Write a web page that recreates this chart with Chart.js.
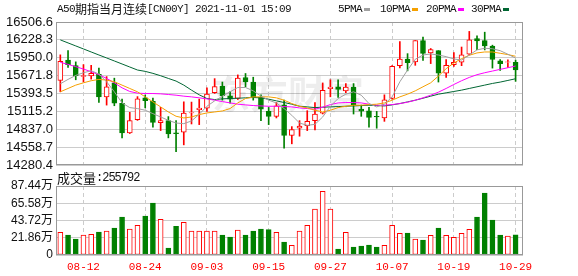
<!DOCTYPE html>
<html>
<head>
<meta charset="utf-8">
<script src="https://cdn.jsdelivr.net/npm/chart.js@4.4.0/dist/chart.umd.min.js"></script>
<style>
  html, body { margin: 0; padding: 0; background: #fff; }
  #wrap { position: relative; width: 578px; height: 276px; }
  #wrap canvas { position: absolute; left: 0; top: 0; }
</style>
</head>
<body>
<div id="wrap">
  <canvas id="volChart" width="578" height="276"></canvas>
  <canvas id="kChart" width="578" height="276"></canvas>
</div>
<script>
const dates = ['08-06','08-10','08-11','08-12','08-13','08-16','08-17','08-18','08-19','08-20',
  '08-23','08-24','08-25','08-26','08-27','08-30','08-31','09-01','09-02','09-03',
  '09-06','09-07','09-08','09-09','09-10','09-13','09-14','09-15','09-16','09-17',
  '09-20','09-21','09-22','09-23','09-24','09-27','09-28','09-29','09-30','10-01',
  '10-04','10-05','10-06','10-07','10-08','10-11','10-12','10-13','10-14','10-15',
  '10-18','10-19','10-20','10-21','10-22','10-25','10-26','10-27','10-28','10-29'];

const opens = [15597,15913,15827,15660,15667,15690,15342,15558,15239,14780,
  14985,15325,15270,14940,14971,14780,14791,15090,15141,15167,
  15405,15508,15358,15316,15642,15572,15332,15115,15038,15218,
  14739,14852,14893,14971,15089,15468,15498,15433,15493,15151,
  15125,15038,15013,15316,15827,15929,15886,16217,16025,16061,
  15709,15843,15880,16005,16250,16217,16130,15902,15880,15880];
const highs = [15995,16061,15886,15843,15832,15789,15657,15632,15306,15100,
  15345,15370,15322,15178,15034,14971,15264,15260,15306,15480,
  15625,15572,15423,15683,15705,15647,15373,15177,15254,15290,
  14878,14971,15126,15254,15558,15607,15607,15548,15548,15213,
  15177,15115,15373,15830,16200,16014,16217,16272,16094,16061,
  15923,16030,16117,16360,16290,16348,16146,15923,15918,15913];
const lows = [15420,15800,15607,15572,15617,15254,15213,15203,14703,14770,
  14975,15170,14868,14816,14703,14486,14594,14919,14909,15115,
  15395,15290,15244,15300,15498,15290,14971,14909,15013,14542,
  14610,14729,14816,14827,15075,15342,15332,15408,15074,15038,
  14868,14853,14960,15305,15790,15746,15832,15907,15859,15572,
  15642,15816,15827,15995,16077,16072,15789,15752,15800,15583];
const closes = [15896,15843,15672,15672,15709,15342,15498,15244,14780,14971,
  15310,15283,14945,14971,14765,14770,15089,15097,15167,15383,
  15500,15358,15306,15632,15572,15332,15151,15038,15203,14739,
  14832,14888,14960,15074,15443,15493,15458,15493,15218,15120,
  15023,15030,15296,15817,15929,15875,16217,16019,16078,15709,
  15832,15880,15995,16228,16211,16136,15923,15859,15885,15761];

// volume, in 万
const vols = [28.7,25.3,20.3,25.3,26.2,29.1,30.4,34.2,48.2,32.9,
  37.6,49.4,65.9,45.2,8.9,36.3,41.4,30.4,30.4,30.4,
  30.4,25.3,22.8,31.7,25.3,30.4,32.9,32.1,28.7,16.5,
  12.3,30.4,37.6,58.3,80.7,58.3,7.6,28.7,10.1,11.4,
  12.7,10.1,12.3,37.6,27.5,27.9,20.3,19.0,24.9,34.2,
  24.9,22.4,27.5,32.5,48.2,78.6,44.4,25.3,24.1,25.58];

const ma5 = [15545,15613,15675,15717,15748,15696,15576,15420,15247,15174,
  15159,15133,15080,15028,14976,14934,14924,14966,15070,15195,
  15279,15352,15420,15487,15487,15435,15352,15289,15247,15159,
  15054,14934,14898,14913,15028,15195,15315,15383,15420,15367,
  15237,15185,15227,15341,15576,15759,15926,15993,16009,15993,
  15967,15931,15915,15993,16072,16098,16090,16060,16005,15945];
const ma10 = [15420,15472,15524,15560,15592,15613,15602,15576,15524,15472,
  15420,15341,15263,15185,15106,15039,15013,15028,15065,15091,
  15106,15122,15159,15247,15315,15341,15341,15341,15326,15289,
  15237,15195,15169,15133,15106,15133,15174,15195,15211,15211,
  15221,15227,15247,15289,15341,15383,15435,15498,15560,15665,
  15780,15868,15936,15988,16025,16040,16040,16020,15999,15973];
const ma20 = [15879,15847,15811,15774,15733,15686,15628,15560,15482,15425,
  15399,15393,15393,15388,15378,15367,15352,15341,15326,15310,
  15289,15268,15247,15227,15216,15206,15200,15195,15195,15190,
  15185,15169,15159,15148,15180,15221,15247,15253,15253,15247,
  15227,15211,15211,15221,15237,15258,15289,15326,15367,15414,
  15472,15534,15592,15644,15686,15717,15743,15769,15795,15821];
const ma30 = [16228,16181,16134,16087,16040,15993,15947,15900,15853,15806,
  15759,15738,15707,15670,15628,15587,15524,15446,15373,15315,
  15299,15310,15315,15320,15326,15331,15326,15305,15279,15253,
  15227,15195,15185,15174,15180,15185,15190,15195,15200,15206,
  15211,15206,15200,15216,15237,15263,15289,15320,15352,15383,
  15404,15425,15446,15472,15498,15524,15550,15571,15597,15623];

const priceTickLabels = ['14280.4','14558.7','14837.0','15115.2','15393.5','15671.8','15950.0','16228.3','16506.6'];
const volTickValues = [0, 21.86, 43.72, 65.58, 87.44];
const volTickLabels = ['0', '21.86万', '43.72万', '65.58万', '87.44万'];
const dateTickIdx = [3, 11, 19, 27, 35, 43, 51, 59];

const titleParts = ['A50', '期指当月连续', '[CN00Y] 2021-11-01 15:09'];
const volTitle = ['成交量', ':255792'];
const maNames = ['5PMA', '10PMA', '20PMA', '30PMA'];
const maColors = ['#a0a0a0', '#f5a000', '#ff00ff', '#006633'];

const RED = '#ff0000';
const GREEN = '#008000';
const X_MIN = -0.56, X_MAX = 59.96;
const MONO = '"Liberation Mono", "DejaVu Sans Mono", monospace';
const CJK = '"Noto Sans CJK SC", sans-serif';

const idx = dates.map((_, i) => i);
const up = i => closes[i] >= opens[i];

// gray box round the plot area
const framePlugin = {
  id: 'frame',
  afterDraw(chart) {
    const a = chart.chartArea;
    const ctx = chart.ctx;
    ctx.save();
    ctx.strokeStyle = '#999';
    ctx.lineWidth = 1;
    ctx.strokeRect(Math.round(a.left) + 0.5, Math.round(a.top) + 0.5,
      Math.round(a.right - a.left) - 1, Math.round(a.bottom - a.top) - 1);
    ctx.restore();
  }
};

const watermark = {
  id: 'watermark',
  beforeDatasetsDraw(chart) {
    const ctx = chart.ctx;
    ctx.save();
    ctx.fillStyle = 'rgba(0,0,0,0.07)';
    ctx.font = 'bold 38px ' + CJK;
    ctx.textBaseline = 'middle';
    ctx.fillText('东方财富', 212, 94);
    ctx.restore();
  }
};

// title, MA legend and volume caption
const texts = {
  id: 'texts',
  afterDraw(chart) {
    const ctx = chart.ctx;
    ctx.save();
    ctx.fillStyle = '#111';
    ctx.textBaseline = 'middle';
    let x = 57;
    ctx.font = '11px ' + MONO;
    ctx.letterSpacing = '-0.6px';
    ctx.fillText(titleParts[0], x, 9);
    x += ctx.measureText(titleParts[0]).width;
    ctx.letterSpacing = '0px';
    ctx.font = '12px ' + CJK;
    ctx.fillText(titleParts[1], x, 9);
    x += ctx.measureText(titleParts[1]).width;
    ctx.font = '11px ' + MONO;
    ctx.letterSpacing = '-0.6px';
    ctx.fillText(titleParts[2], x, 9);

    const legX = [338, 380, 426, 471];
    maNames.forEach((n, k) => {
      ctx.fillStyle = '#111';
      ctx.fillText(n, legX[k], 9);
      const w = ctx.measureText(n).width;
      ctx.fillStyle = maColors[k];
      ctx.fillRect(legX[k] + w + 2, 8, 6, 3);
    });

    ctx.letterSpacing = '0px';
    ctx.fillStyle = '#111';
    ctx.font = '13px ' + CJK;
    ctx.fillText(volTitle[0], 57, 178);
    const w0 = ctx.measureText(volTitle[0]).width;
    ctx.font = '12px ' + MONO;
    ctx.letterSpacing = '-1px';
    ctx.fillText(volTitle[1], 57 + w0, 178);
    ctx.restore();
  }
};

const xGrid = {
  type: 'linear', min: X_MIN, max: X_MAX, offset: false,
  afterBuildTicks: s => { s.ticks = dateTickIdx.map(v => ({ value: v })); },
  grid: { offset: false, color: '#cccccc', drawTicks: false },
  border: { display: false, dash: [4, 3] }
};

new Chart(document.getElementById('kChart'), {
  type: 'bar',
  data: {
    datasets: [
      { type: 'line', data: idx.map(i => ({ x: i, y: ma5[i] })), borderColor: maColors[0], borderWidth: 1, pointRadius: 0, order: 1 },
      { type: 'line', data: idx.map(i => ({ x: i, y: ma10[i] })), borderColor: maColors[1], borderWidth: 1, pointRadius: 0, order: 1 },
      { type: 'line', data: idx.map(i => ({ x: i, y: ma20[i] })), borderColor: maColors[2], borderWidth: 1, pointRadius: 0, order: 1 },
      { type: 'line', data: idx.map(i => ({ x: i, y: ma30[i] })), borderColor: maColors[3], borderWidth: 1, pointRadius: 0, order: 1 },
      {
        data: idx.map(i => ({ x: i, y: [opens[i], closes[i]] })),
        backgroundColor: idx.map(i => up(i) ? '#ffffff' : GREEN),
        borderColor: idx.map(i => up(i) ? RED : GREEN),
        borderWidth: 1, borderSkipped: false, barThickness: 5, grouped: false, order: 2
      },
      {
        data: idx.map(i => ({ x: i, y: [lows[i], highs[i]] })),
        backgroundColor: idx.map(i => up(i) ? RED : GREEN),
        borderWidth: 0, barThickness: 1, grouped: false, order: 3
      }
    ]
  },
  options: {
    responsive: false, animation: false, devicePixelRatio: 1,
    layout: { padding: { left: 0, right: 55, top: 22, bottom: 111 } },
    plugins: { legend: { display: false }, tooltip: { enabled: false } },
    scales: {
      x: Object.assign({}, xGrid, {
        ticks: { display: false },
        afterFit: s => { s.height = 0; }
      }),
      y: {
        min: 14280.4, max: 16506.6,
        afterBuildTicks: s => { s.ticks = priceTickLabels.map(t => ({ value: parseFloat(t) })); },
        ticks: {
          autoSkip: false, padding: 3, color: '#111',
          font: { family: '"Liberation Sans", Arial', size: 13 },
          callback: (v, i) => priceTickLabels[i]
        },
        grid: { color: '#cccccc', drawTicks: false },
        border: { display: false },
        afterFit: s => { s.width = 56; }
      }
    }
  },
  plugins: [watermark, framePlugin, texts]
});

new Chart(document.getElementById('volChart'), {
  type: 'bar',
  data: {
    datasets: [{
      data: idx.map(i => ({ x: i, y: vols[i] })),
      backgroundColor: idx.map(i => up(i) ? '#ffffff' : GREEN),
      borderColor: idx.map(i => up(i) ? RED : GREEN),
      borderWidth: 1, borderSkipped: false, barThickness: 5, grouped: false
    }]
  },
  options: {
    responsive: false, animation: false, devicePixelRatio: 1,
    layout: { padding: { left: 0, right: 55, top: 186, bottom: 0 } },
    plugins: { legend: { display: false }, tooltip: { enabled: false } },
    scales: {
      x: Object.assign({}, xGrid, {
        ticks: {
          autoSkip: false, maxRotation: 0, padding: 5, color: RED,
          font: { family: MONO, size: 11 },
          callback: v => dates[v]
        },
        afterFit: s => { s.height = 21; }
      }),
      y: {
        min: 0, max: 87.44,
        afterBuildTicks: s => { s.ticks = volTickValues.map(v => ({ value: v })); },
        ticks: {
          autoSkip: false, padding: 3, color: '#111',
          font: { family: '"Liberation Sans", Arial, "Noto Sans CJK SC"', size: 12 },
          callback: (v, i) => volTickLabels[i]
        },
        grid: { color: '#cccccc', drawTicks: false },
        border: { display: false },
        afterFit: s => { s.width = 56; }
      }
    }
  },
  plugins: [framePlugin]
});
</script>
</body>
</html>
